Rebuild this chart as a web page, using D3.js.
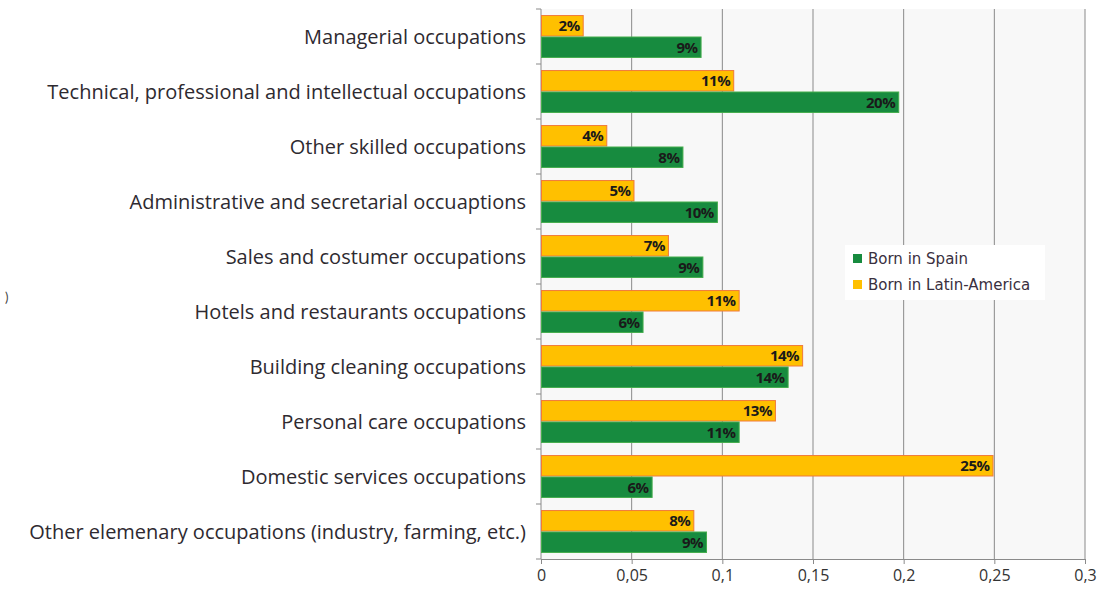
<!DOCTYPE html>
<html>
<head>
<meta charset="utf-8">
<script src="https://cdn.jsdelivr.net/npm/d3@7/dist/d3.min.js"></script>
<style>
  html, body { margin: 0; padding: 0; background: #ffffff; }
  svg { display: block; }
</style>
</head>
<body>
<svg id="chart" width="1106" height="595"></svg>
<script>
// Occupation categories, top to bottom
const categories = [
  "Managerial occupations",
  "Technical, professional and intellectual occupations",
  "Other skilled occupations",
  "Administrative and secretarial occuaptions",
  "Sales and costumer occupations",
  "Hotels and restaurants occupations",
  "Building cleaning occupations",
  "Personal care occupations",
  "Domestic services occupations",
  "Other elemenary occupations (industry, farming, etc.)"
];

// Share of workers in each occupation
const bornInSpain = [0.088, 0.197, 0.078, 0.097, 0.089, 0.056, 0.136, 0.109, 0.061, 0.091];
const bornInLatinAmerica = [0.023, 0.106, 0.036, 0.051, 0.070, 0.109, 0.144, 0.129, 0.249, 0.084];

const seriesNames = ["Born in Spain", "Born in Latin-America"];
const xTicks = [0, 0.05, 0.1, 0.15, 0.2, 0.25, 0.3];
const xTickLabels = ["0", "0,05", "0,1", "0,15", "0,2", "0,25", "0,3"];

const svg = d3.select("#chart");
const margin = { left: 541, right: 21, top: 9, bottom: 36 };
const W = 1106, H = 595;
const plotW = W - margin.left - margin.right;
const plotH = H - margin.top - margin.bottom;

const x = d3.scaleLinear().domain([0, 0.3]).range([0, plotW]);
const y = d3.scaleBand().domain(categories).range([0, plotH]).paddingInner(0.22).paddingOuter(0.11);
const inner = d3.scaleBand().domain(["latin", "spain"]).range([0, y.bandwidth()]);

const fmt = d3.format(".0%");
const g = svg.append("g").attr("transform", `translate(${margin.left},${margin.top})`);

// plot background
g.append("rect").attr("width", plotW).attr("height", plotH).attr("fill", "#f8f8f8");

// vertical gridlines
g.selectAll("line.grid").data(xTicks.slice(1)).join("line")
  .attr("class", "grid")
  .attr("x1", d => x(d)).attr("x2", d => x(d))
  .attr("y1", 0).attr("y2", plotH)
  .attr("stroke", "#8a8a8a").attr("stroke-width", 1);

// bottom axis
const xAxis = d3.axisBottom(x).tickValues(xTicks)
  .tickFormat((d, i) => xTickLabels[i]).tickSize(5).tickPadding(6);
const xa = g.append("g").attr("transform", `translate(0,${plotH})`).call(xAxis);
xa.select(".domain").attr("stroke", "#8a8a8a");
xa.selectAll(".tick line").attr("stroke", "#8a8a8a");
xa.selectAll(".tick text")
  .attr("font-family", "'Open Sans', Lato, sans-serif")
  .attr("font-size", 16).attr("fill", "#333");

// left axis: boundary ticks between categories
const step = y.step();
const boundaries = d3.range(categories.length + 1).map(i => i * step + (plotH - step * categories.length) / 2);
g.append("line").attr("x1", 0).attr("x2", 0).attr("y1", 0).attr("y2", plotH)
  .attr("stroke", "#8a8a8a");
g.selectAll("line.ytick").data(boundaries).join("line")
  .attr("class", "ytick")
  .attr("x1", -5).attr("x2", 0)
  .attr("y1", d => d).attr("y2", d => d)
  .attr("stroke", "#8a8a8a");

// category labels
g.selectAll("text.cat").data(categories).join("text")
  .attr("class", "cat")
  .attr("x", -15)
  .attr("y", d => y(d) + y.bandwidth() / 2)
  .attr("dy", "0.35em")
  .attr("text-anchor", "end")
  .attr("font-family", "'Open Sans', Lato, sans-serif")
  .attr("font-size", 20)
  .attr("fill", "#2e2a30")
  .text(d => d);

const rows = categories.map((c, i) => ({ c, spain: bornInSpain[i], latin: bornInLatinAmerica[i] }));

const colors = {
  latin: { fill: "#ffc000", stroke: "#f07a3a" },
  spain: { fill: "#178b3f", stroke: "#44ad4c" }
};

["latin", "spain"].forEach(key => {
  g.selectAll(`rect.${key}`).data(rows).join("rect")
    .attr("class", key)
    .attr("x", 0.5)
    .attr("y", d => y(d.c) + inner(key) + 0.5)
    .attr("width", d => x(d[key]))
    .attr("height", inner.bandwidth() - 1)
    .attr("fill", colors[key].fill)
    .attr("stroke", colors[key].stroke)
    .attr("stroke-width", 1);

  g.selectAll(`text.lbl-${key}`).data(rows).join("text")
    .attr("class", `lbl-${key}`)
    .attr("x", d => x(d[key]) - 3)
    .attr("y", d => y(d.c) + inner(key) + inner.bandwidth() / 2)
    .attr("dy", "0.36em")
    .attr("text-anchor", "end")
    .attr("font-family", "'Open Sans', Lato, sans-serif")
    .attr("font-weight", "bold")
    .attr("font-size", 15)
    .attr("letter-spacing", -0.5)
    .attr("fill", "#1a1a1a")
    .text(d => fmt(d[key]));
});

// legend
const lg = svg.append("g").attr("transform", "translate(845,245)");
lg.append("rect").attr("width", 200).attr("height", 55).attr("fill", "#ffffff");
const legendColors = [colors.spain.fill, colors.latin.fill];
seriesNames.forEach((name, i) => {
  lg.append("rect")
    .attr("x", 8).attr("y", 9 + i * 26)
    .attr("width", 9).attr("height", 9)
    .attr("fill", legendColors[i]);
  lg.append("text")
    .attr("x", 23).attr("y", 14 + i * 26)
    .attr("dy", "0.35em")
    .attr("font-family", "'DejaVu Sans', sans-serif")
    .attr("font-size", 15)
    .attr("fill", "#3a3040")
    .text(name);
});

// clipped glyph at the left edge
svg.append("text").attr("x", 5).attr("y", 302)
  .attr("font-family", "Lato, sans-serif").attr("font-size", 13)
  .attr("fill", "#444").text(")");
</script>
</body>
</html>
